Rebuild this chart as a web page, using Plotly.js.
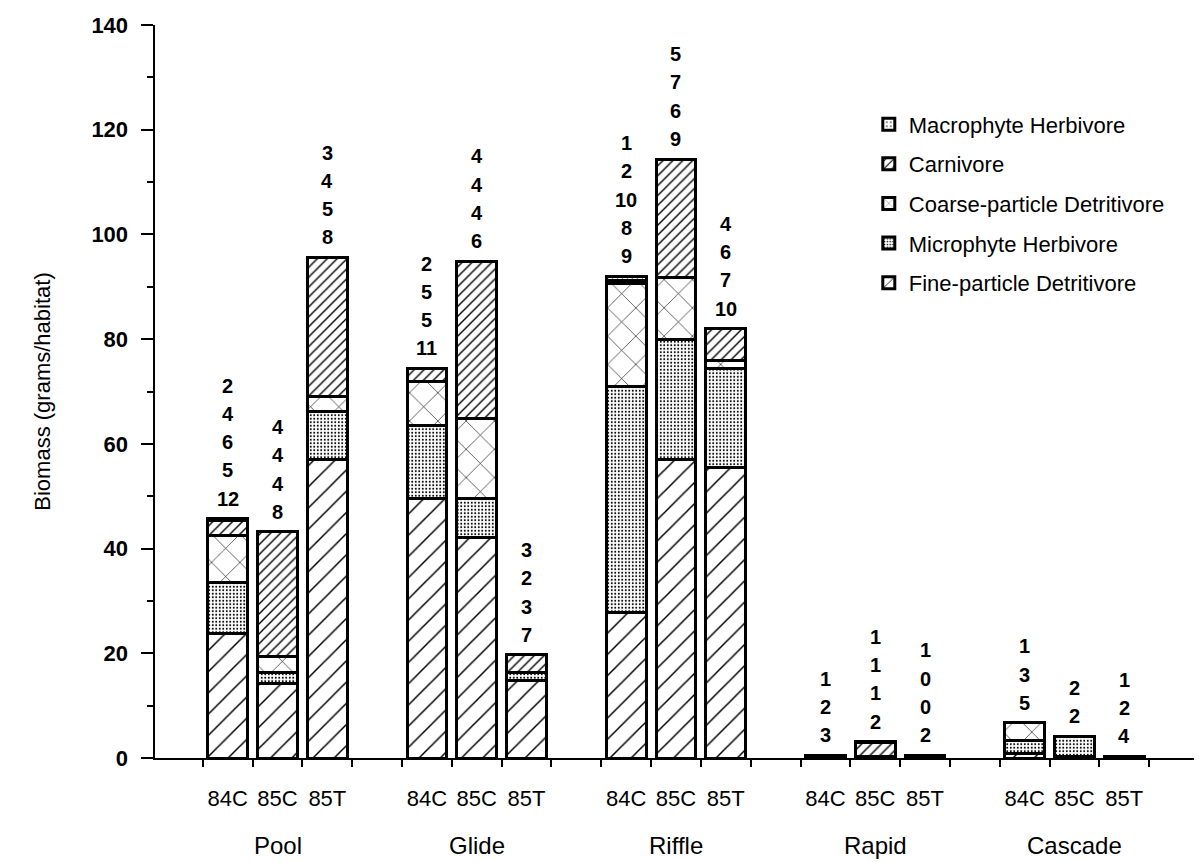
<!DOCTYPE html>
<html>
<head>
<meta charset="utf-8">
<script src="https://cdn.plot.ly/plotly-3.0.1.min.js"></script>
<style>html,body{margin:0;padding:0;background:#fff;}</style>
</head>
<body>
<div id="chart" style="width:1199px;height:862px;"></div>
<script>
// ---- data ----
var positions = [0, 1, 2, 4, 5, 6, 8, 9, 10, 12, 13, 14, 16, 17, 18];
var periods = ['84C','85C','85T','84C','85C','85T','84C','85C','85T','84C','85C','85T','84C','85C','85T'];
var habitats = ['Pool', 'Glide', 'Riffle', 'Rapid', 'Cascade'];
var habitatCenters = [1, 5, 9, 13, 17];

var fineDetritivore   = [23.8, 14.3, 57.0, 49.5, 42.2, 14.8, 27.7, 57.0, 55.4, 0.3, 0.3, 0.3, 0.8, 0.2, 0.3];
var microHerbivore    = [ 9.7,  2.1,  9.1, 14.1,  7.3,  1.5, 43.2, 22.9, 19.0, 0.1, 0.0, 0.1, 2.5, 4.0, 0.0];
var coarseDetritivore = [ 9.0,  2.9,  3.0,  8.3, 15.4,  0.0, 19.7, 11.9,  1.6, 0.0, 0.0, 0.0, 3.4, 0.0, 0.0];
var carnivore         = [ 2.8, 23.9, 26.5,  2.5, 30.0,  3.4,  0.6, 22.6,  6.0, 0.1, 2.6, 0.1, 0.0, 0.0, 0.0];
var macroHerbivore    = [ 0.4,  0.0,  0.0,  0.0,  0.0,  0.0,  0.8,  0.0,  0.0, 0.0, 0.2, 0.0, 0.0, 0.0, 0.0];

var taxaCounts = [
  [2,4,6,5,12], [4,4,4,8], [3,4,5,8],
  [2,5,5,11], [4,4,4,6], [3,2,3,7],
  [1,2,10,8,9], [5,7,6,9], [4,6,7,10],
  [1,2,3], [1,1,1,2], [1,0,0,2],
  [1,3,5], [2,2], [1,2,4]
];

// ---- build ----
var FONT = 'Liberation Sans, Arial, Helvetica, sans-serif';
var series = [
  {name: 'Fine-particle Detritivore',   y: fineDetritivore,   rank: 5, pattern: {shape: '/', size: 15, solidity: 0.1}},
  {name: 'Microphyte Herbivore',        y: microHerbivore,    rank: 4, pattern: {shape: '.', size: 3.5, solidity: 0.25}},
  {name: 'Coarse-particle Detritivore', y: coarseDetritivore, rank: 3, pattern: {shape: 'x', size: 20, solidity: 0.06}},
  {name: 'Carnivore',                   y: carnivore,         rank: 2, pattern: {shape: '/', size: 7, solidity: 0.2}},
  {name: 'Macrophyte Herbivore',        y: macroHerbivore,    rank: 1, pattern: {shape: '.', size: 5, solidity: 0.12}}
];

var traces = series.map(function (s, i) {
  var p = s.pattern;
  return {
    type: 'bar',
    name: s.name,
    x: positions,
    y: s.y,
    width: 0.8,
    legendgroup: 'g' + i,
    legendrank: s.rank,
    marker: {
      color: 'white',
      line: {color: 'black', width: 3},
      pattern: {shape: p.shape, size: p.size, solidity: p.solidity, fgcolor: 'black', bgcolor: 'white', fillmode: 'replace'}
    },
    hoverinfo: 'x+y+name'
  };
});

var totals = positions.map(function (_, j) {
  return series.reduce(function (acc, s) { return acc + s.y[j]; }, 0);
});

var annotations = [];
positions.forEach(function (x, j) {
  var nums = taxaCounts[j];
  var n = nums.length;
  nums.forEach(function (v, k) {
    annotations.push({
      x: x, y: totals[j], xref: 'x', yref: 'y',
      text: '<b>' + v + '</b>',
      showarrow: false, yanchor: 'middle',
      yshift: 20 + (n - 1 - k) * 28.3,
      font: {family: FONT, size: 20, color: 'black'}
    });
  });
});
habitats.forEach(function (h, k) {
  annotations.push({
    x: habitatCenters[k], y: -0.119, xref: 'x', yref: 'paper',
    text: h, showarrow: false, yanchor: 'middle',
    font: {family: FONT, size: 24, color: 'black'}
  });
});

var halfTicks = [];
for (var t = -1.5; t <= 19; t += 1) halfTicks.push(t);

var layout = {
  width: 1199, height: 862,
  margin: {l: 155, r: 5, t: 25, b: 104},
  paper_bgcolor: 'white', plot_bgcolor: 'white',
  barmode: 'stack',
  showlegend: true,
  font: {family: FONT, color: 'black'},
  xaxis: {
    range: [-1.46, 19.4],
    showline: true, linecolor: 'black', linewidth: 2,
    showgrid: false, zeroline: false,
    tickmode: 'array', tickvals: positions, ticktext: periods,
    ticks: '', ticklabelstandoff: 20,
    tickfont: {family: FONT, size: 22, color: 'black'},
    minor: {tickmode: 'array', tickvals: halfTicks, ticks: 'outside', ticklen: 7, tickwidth: 2, tickcolor: 'black', showgrid: false}
  },
  yaxis: {
    range: [0, 140],
    showline: true, linecolor: 'black', linewidth: 2.5,
    showgrid: false, zeroline: false,
    tickmode: 'linear', tick0: 0, dtick: 20,
    ticks: 'outside', ticklen: 12, tickwidth: 2, tickcolor: 'black',
    ticklabelstandoff: 8,
    tickfont: {family: FONT, size: 22, color: 'black', weight: 'bold'},
    minor: {dtick: 10, ticks: 'outside', ticklen: 6, tickwidth: 2, tickcolor: 'black', showgrid: false},
    title: {text: 'Biomass (grams/habitat)', font: {family: FONT, size: 22, color: 'black'}, standoff: 35}
  },
  legend: {
    x: 0.687, y: 0.893, xanchor: 'left', yanchor: 'top',
    traceorder: 'grouped',
    tracegroupgap: 8,
    bgcolor: 'rgba(0,0,0,0)',
    font: {family: FONT, size: 22, color: 'black'}
  },
  annotations: annotations
};

Plotly.newPlot('chart', traces, layout, {displayModeBar: false, staticPlot: true});
</script>
</body>
</html>
